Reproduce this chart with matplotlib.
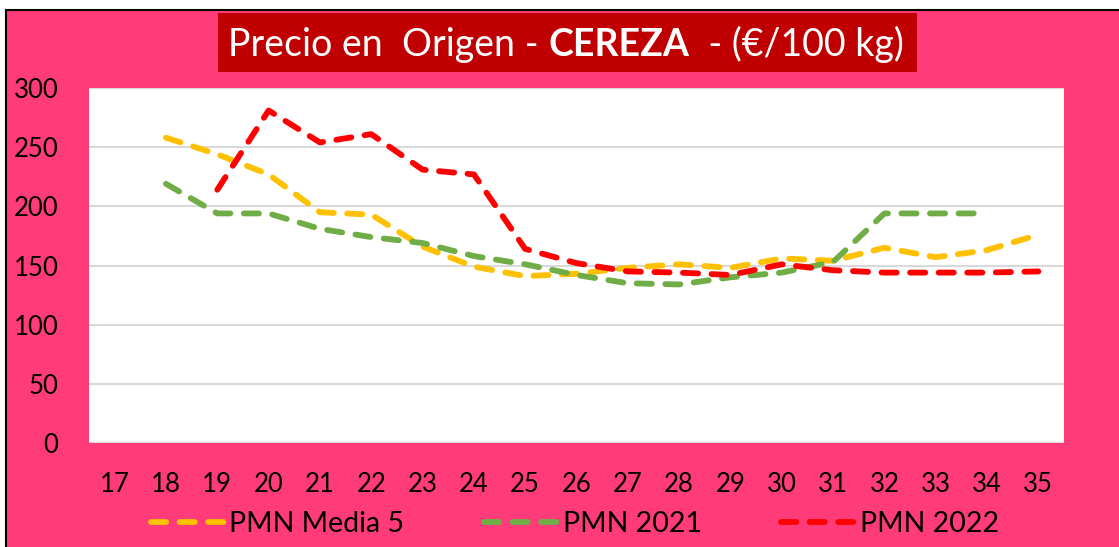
import numpy as np
import matplotlib.pyplot as plt
from matplotlib.patches import Rectangle
from matplotlib.lines import Line2D

plt.rcParams['font.family'] = ['Lato', 'DejaVu Sans']

# semanas
semanas = [17, 18, 19, 20, 21, 22, 23, 24, 25, 26, 27, 28, 29, 30, 31, 32, 33, 34, 35]

# precios (€/100 kg)
media5 = [np.nan, 258, 244, 227, 195, 193, 166, 149, 141, 143, 148, 151, 148, 156, 154, 165, 157, 163, 176]
pmn2021 = [np.nan, 219, 194, 194, 181, 174, 169, 158, 151, 142, 135, 134, 140, 144, 153, 194, 194, 194, np.nan]
pmn2022 = [np.nan, np.nan, 214, 281, 254, 261, 231, 227, 164, 152, 145, 144, 142, 151, 146, 144, 144, 144, 145]

W, H = 1119, 547
rosa = '#FF3B7A'
fig = plt.figure(figsize=(W / 100, H / 100), dpi=100)
fig.patch.set_facecolor(rosa)

# franjas blancas y borde negro arriba y a la izquierda
fig.patches.append(Rectangle((0, 1 - 10 / H), 1, 10 / H, transform=fig.transFigure,
                             facecolor='white', edgecolor='none', zorder=0.5))
fig.patches.append(Rectangle((0, 0), 6 / W, 1, transform=fig.transFigure,
                             facecolor='white', edgecolor='none', zorder=0.5))
fig.lines.append(Line2D([6 / W, 1], [1 - 10 / H, 1 - 10 / H], transform=fig.transFigure,
                        color='black', linewidth=1.5, zorder=0.6))
fig.lines.append(Line2D([6 / W, 6 / W], [0, 1 - 10 / H], transform=fig.transFigure,
                        color='black', linewidth=1.5, zorder=0.6))

ax = fig.add_axes([89 / W, 1 - 443 / H, (1064 - 89) / W, (443 - 88) / H])
ax.set_zorder(2)
ax.set_facecolor('white')

x = np.arange(len(semanas))
estilo = dict(linewidth=4.2, linestyle=(0, (2.6, 2.3)), dash_capstyle='round', dash_joinstyle='round')
ax.plot(x, media5, color='#FFC000', label='PMN Media 5', **estilo)
ax.plot(x, pmn2021, color='#70AD47', label='PMN 2021', **estilo)
ax.plot(x, pmn2022, color='#FF0000', label='PMN 2022', **estilo)

ax.set_xlim(-0.5, len(semanas) - 0.5)
ax.set_ylim(0, 300)
ax.set_yticks(range(0, 301, 50))
ax.set_xticks(x)
ax.set_xticklabels([str(s) for s in semanas])
ax.grid(axis='y', color='#D9D9D9', linewidth=1.5)
ax.set_axisbelow(True)
for s in ax.spines.values():
    s.set_visible(False)
ax.tick_params(length=0, labelsize=18.5, colors='black')
ax.tick_params(axis='y', pad=22)
ax.tick_params(axis='x', pad=21)

leg = fig.legend(loc='center', bbox_to_anchor=(575 / W, 1 - 524 / H), ncol=3, frameon=False,
                 fontsize=20.5, handlelength=2.56, handletextpad=0.2, columnspacing=2.8)
leg.set_zorder(3)

# título
fig.patches.append(Rectangle((218 / W, 1 - 72 / H), (917 - 218) / W, (72 - 13) / H,
                             transform=fig.transFigure, facecolor='#C00000', edgecolor='none', zorder=1))
partes = [('Precio en  Origen - ', 'normal'), ('CEREZA', 'bold'), ('  - (€/100 kg)', 'normal')]
fig.canvas.draw()
r = fig.canvas.get_renderer()
xpos = 228
for s, w in partes:
    t = fig.text(xpos / W, 1 - 56 / H, s, color='white', fontsize=27, fontweight=w,
                 va='baseline', ha='left', zorder=3)
    xpos += t.get_window_extent(r).width

fig.savefig('out.png', dpi=100, facecolor=fig.get_facecolor())
